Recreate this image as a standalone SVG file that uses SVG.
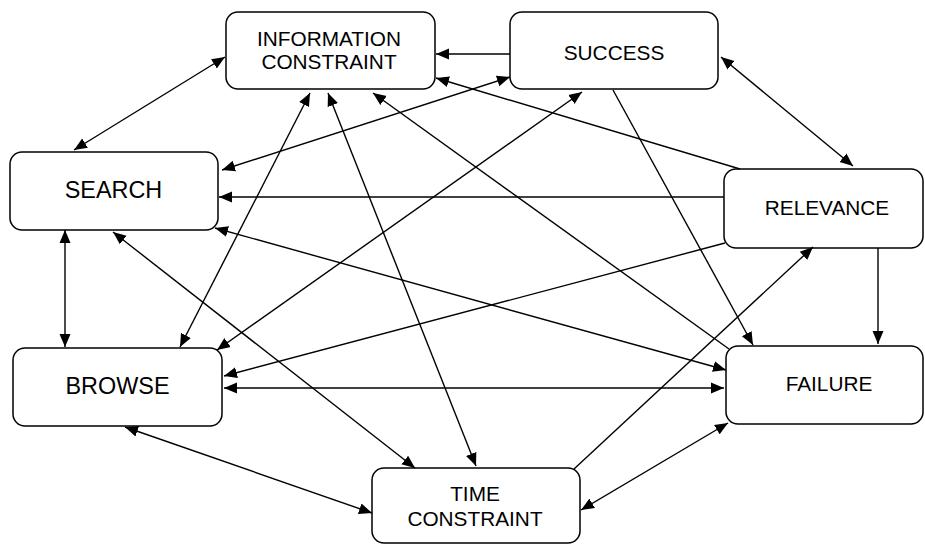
<svg xmlns="http://www.w3.org/2000/svg" width="925" height="544" viewBox="0 0 925 544">
<style>
.box{fill:#fff;stroke:#000;stroke-width:1.5}
.lbl{font-family:"Liberation Sans",Arial,sans-serif;font-size:20.8px;fill:#000;text-anchor:middle}
.big{font-size:23.4px}
.c line{stroke:#000;stroke-width:1.4}
.e{marker-end:url(#ah)}
.d{marker-start:url(#ah);marker-end:url(#ah)}
</style>
<defs>
<marker id="ah" markerUnits="userSpaceOnUse" markerWidth="14" markerHeight="12" refX="13" refY="5.5" orient="auto-start-reverse" viewBox="0 0 14 11">
<path d="M0,0 L13,5.5 L0,11 z" fill="#000"/>
</marker>
</defs>
<rect width="925" height="544" fill="#fff"/>
<g id="info"><rect class="box" x="226" y="12" width="209" height="77" rx="12"/><text class="lbl" x="329" y="46">INFORMATION</text><text class="lbl" x="329" y="69">CONSTRAINT</text></g>
<g id="success"><rect class="box" x="510" y="12" width="208" height="77" rx="12"/><text class="lbl" x="614" y="60">SUCCESS</text></g>
<g id="search"><rect class="box" x="10" y="152" width="208" height="78" rx="12"/><text class="lbl big" x="113.5" y="198">SEARCH</text></g>
<g id="relevance"><rect class="box" x="724" y="169" width="199" height="79" rx="12"/><text class="lbl" x="827" y="215">RELEVANCE</text></g>
<g id="browse"><rect class="box" x="13" y="348" width="209" height="78" rx="12"/><text class="lbl big" x="117.5" y="394">BROWSE</text></g>
<g id="failure"><rect class="box" x="726" y="346" width="197" height="78" rx="12"/><text class="lbl" x="829" y="391">FAILURE</text></g>
<g id="time"><rect class="box" x="372" y="468" width="208" height="75" rx="12"/><text class="lbl" x="475" y="501">TIME</text><text class="lbl" x="475" y="526">CONSTRAINT</text></g>
<g id="connectors" class="c">
<line class="d" x1="74" y1="150" x2="225" y2="57"/>
<line class="e" x1="510" y1="54" x2="436" y2="54"/>
<line class="d" x1="222" y1="170" x2="510" y2="77"/>
<line class="e" x1="740" y1="169" x2="436" y2="78"/>
<line class="d" x1="721" y1="57" x2="853" y2="166"/>
<line class="e" x1="724" y1="197" x2="219" y2="197"/>
<line class="d" x1="65" y1="230" x2="65" y2="347"/>
<line class="d" x1="215" y1="228" x2="726" y2="370"/>
<line class="d" x1="113" y1="232" x2="415" y2="468"/>
<line class="d" x1="310" y1="93" x2="180" y2="347"/>
<line class="d" x1="328" y1="93" x2="476" y2="466"/>
<line class="e" x1="729" y1="349" x2="373" y2="93"/>
<line class="d" x1="582" y1="92" x2="217" y2="350"/>
<line class="e" x1="613" y1="90" x2="753" y2="345"/>
<line class="e" x1="878" y1="248" x2="878" y2="344"/>
<line class="e" x1="725" y1="243" x2="224" y2="376"/>
<line class="d" x1="224" y1="388" x2="724" y2="388"/>
<line class="d" x1="125" y1="427" x2="372" y2="513"/>
<line class="e" x1="574" y1="469" x2="813" y2="247"/>
<line class="d" x1="581" y1="510" x2="728" y2="423"/>
</g>
</svg>
